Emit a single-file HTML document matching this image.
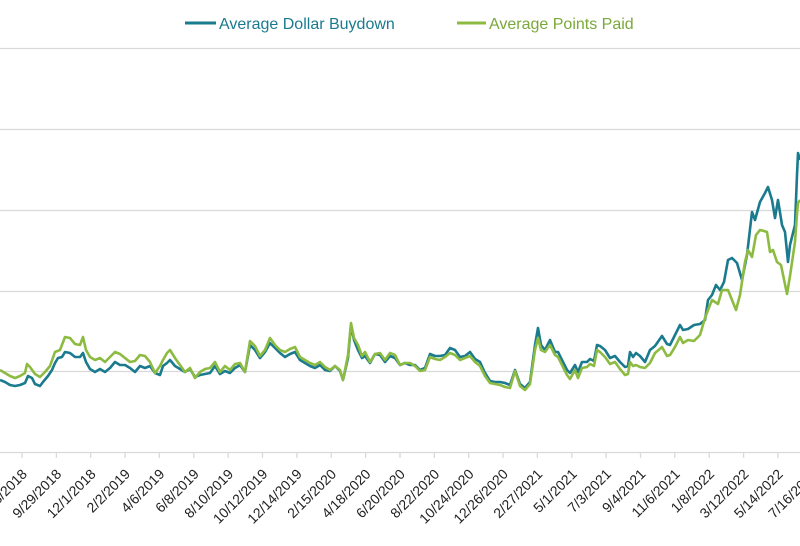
<!DOCTYPE html>
<html><head><meta charset="utf-8"><style>
html,body{margin:0;padding:0;background:#fff;}
svg{display:block;font-family:"Liberation Sans",Arial,sans-serif;}
</style></head><body>
<svg width="800" height="546" viewBox="0 0 800 546" xmlns="http://www.w3.org/2000/svg">
<g stroke="#d9d9d9" stroke-width="1.3">
<line x1="0" y1="48.5" x2="800" y2="48.5"/>
<line x1="0" y1="129.5" x2="800" y2="129.5"/>
<line x1="0" y1="210.5" x2="800" y2="210.5"/>
<line x1="0" y1="291.5" x2="800" y2="291.5"/>
<line x1="0" y1="371.5" x2="800" y2="371.5"/>
<line x1="0" y1="452.5" x2="800" y2="452.5"/>
<path d="M22 452v6M56.4 452v6M90.7 452v6M125.1 452v6M159.4 452v6M193.8 452v6M228.2 452v6M262.5 452v6M296.9 452v6M331.2 452v6M365.6 452v6M400 452v6M434.3 452v6M468.7 452v6M503 452v6M537.4 452v6M571.8 452v6M606.1 452v6M640.5 452v6M674.8 452v6M709.2 452v6M743.6 452v6M777.9 452v6"/>
</g>
<g font-size="14" fill="#222" text-anchor="end">
<text transform="translate(-14.4,467) rotate(-45)" dy="0.8em">5/26/2018</text>
<text transform="translate(20,467) rotate(-45)" dy="0.8em">7/28/2018</text>
<text transform="translate(54.4,467) rotate(-45)" dy="0.8em">9/29/2018</text>
<text transform="translate(88.7,467) rotate(-45)" dy="0.8em">12/1/2018</text>
<text transform="translate(123.1,467) rotate(-45)" dy="0.8em">2/2/2019</text>
<text transform="translate(157.4,467) rotate(-45)" dy="0.8em">4/6/2019</text>
<text transform="translate(191.8,467) rotate(-45)" dy="0.8em">6/8/2019</text>
<text transform="translate(226.2,467) rotate(-45)" dy="0.8em">8/10/2019</text>
<text transform="translate(260.5,467) rotate(-45)" dy="0.8em">10/12/2019</text>
<text transform="translate(294.9,467) rotate(-45)" dy="0.8em">12/14/2019</text>
<text transform="translate(329.2,467) rotate(-45)" dy="0.8em">2/15/2020</text>
<text transform="translate(363.6,467) rotate(-45)" dy="0.8em">4/18/2020</text>
<text transform="translate(398,467) rotate(-45)" dy="0.8em">6/20/2020</text>
<text transform="translate(432.3,467) rotate(-45)" dy="0.8em">8/22/2020</text>
<text transform="translate(466.7,467) rotate(-45)" dy="0.8em">10/24/2020</text>
<text transform="translate(501,467) rotate(-45)" dy="0.8em">12/26/2020</text>
<text transform="translate(535.4,467) rotate(-45)" dy="0.8em">2/27/2021</text>
<text transform="translate(569.8,467) rotate(-45)" dy="0.8em">5/1/2021</text>
<text transform="translate(604.1,467) rotate(-45)" dy="0.8em">7/3/2021</text>
<text transform="translate(638.5,467) rotate(-45)" dy="0.8em">9/4/2021</text>
<text transform="translate(672.8,467) rotate(-45)" dy="0.8em">11/6/2021</text>
<text transform="translate(707.2,467) rotate(-45)" dy="0.8em">1/8/2022</text>
<text transform="translate(741.6,467) rotate(-45)" dy="0.8em">3/12/2022</text>
<text transform="translate(775.9,467) rotate(-45)" dy="0.8em">5/14/2022</text>
<text transform="translate(810.3,467) rotate(-45)" dy="0.8em">7/16/2022</text>
<text transform="translate(844.6,467) rotate(-45)" dy="0.8em">9/17/2022</text>
</g>
<g fill="none" stroke-width="2.6" stroke-linejoin="round">
<polyline stroke="#1a7a8e" points="0,380 5,382 10,385 15,386 20,385 25,383 28,376 32,378 35,384 40,386 43,382 48,376 52,370 55,363 58,358 62,357 65,352 70,353 75,357 80,357 83,353 86,362 90,369 95,372 100,369 105,372 110,368 115,362 120,365 125,365 130,368 135,372 140,366 145,368 150,366 155,373 160,375 163,366 167,363 170,360 175,366 180,369 185,372 190,369 195,377 200,375 205,374 210,373 215,366 220,374 225,371 230,373 235,368 240,365 245,372 250,345 255,350 260,358 265,352 270,343 275,348 280,353 285,357 290,354 295,352 300,360 305,363 310,366 315,368 320,365 325,370 330,371 335,366 340,371 343,380 348,358 351,325 354,340 358,350 362,358 365,356 370,363 375,354 380,355 385,362 390,356 395,358 400,365 405,363 410,365 415,365 420,370 425,368 430,354 435,356 440,356 445,355 450,348 455,350 460,357 465,356 470,352 475,359 480,362 485,373 490,381 495,382 500,382 505,383 510,385 515,370 520,384 525,388 530,382 535,345 538,328 541,345 545,350 550,340 555,352 558,352 562,360 567,370 570,373 575,365 578,372 582,362 587,362 590,359 594,361 597,345 600,346 605,350 610,358 615,356 620,362 625,367 628,366 630,352 633,357 636,353 640,356 645,362 650,350 655,346 662,336 667,344 670,345 675,335 680,325 683,330 688,329 694,325 700,324 705,320 708,300 712,295 716,285 720,290 724,282 728,260 732,258 737,263 742,280 747,255 752,212 755,220 760,202 765,193 768,187 772,200 775,218 778,200 782,225 785,232 788,262 790,245 795,225 797,175 798,153 800,160"/>
<polyline stroke="#8dbb42" points="0,370 5,373 10,376 15,378 20,376 25,373 27,364 30,367 35,374 40,377 45,372 50,366 55,352 60,350 65,337 70,338 75,344 80,345 83,337 86,350 90,357 95,360 100,358 105,362 110,357 115,352 120,354 125,358 130,362 135,361 140,355 145,356 150,362 155,373 160,366 163,360 167,353 170,350 175,358 180,365 185,372 190,368 195,378 200,372 205,369 210,368 215,362 220,372 225,366 230,370 235,364 240,363 245,372 250,341 255,346 260,356 265,350 270,338 275,345 280,350 285,352 290,349 295,347 300,357 305,360 310,363 315,365 320,362 325,367 330,370 335,366 340,370 343,380 348,355 351,323 354,338 358,345 362,356 365,352 370,362 375,354 380,353 385,360 390,353 395,355 400,365 405,363 410,363 415,366 420,371 425,370 430,357 435,359 440,360 445,357 450,353 455,355 460,360 465,358 470,356 475,362 480,366 485,376 490,383 495,384 500,385 505,387 510,388 515,371 520,386 525,390 530,384 535,350 538,338 541,350 545,352 550,345 555,355 558,357 562,365 567,375 570,379 575,370 578,378 582,368 587,367 590,364 594,366 597,350 600,352 605,357 610,364 615,362 620,369 625,375 628,374 630,362 633,366 636,365 640,367 645,368 650,363 655,353 662,347 667,356 670,355 675,347 680,337 683,343 688,340 694,341 700,335 705,318 708,310 712,300 718,304 722,290 728,290 732,300 736,310 740,295 745,262 748,250 752,257 756,235 760,230 764,231 767,232 770,252 773,250 777,262 781,265 787,294 790,276 795,242 797,214 798,203 800,200"/>
</g>
<line x1="185" y1="23" x2="216" y2="23" stroke="#1a7a8e" stroke-width="3"/>
<text x="219" y="29" font-size="16" fill="#1a7a8e">Average Dollar Buydown</text>
<line x1="457" y1="23" x2="486" y2="23" stroke="#8dbb42" stroke-width="3"/>
<text x="489" y="29" font-size="16" fill="#7aa83a">Average Points Paid</text>
</svg>
</body></html>
